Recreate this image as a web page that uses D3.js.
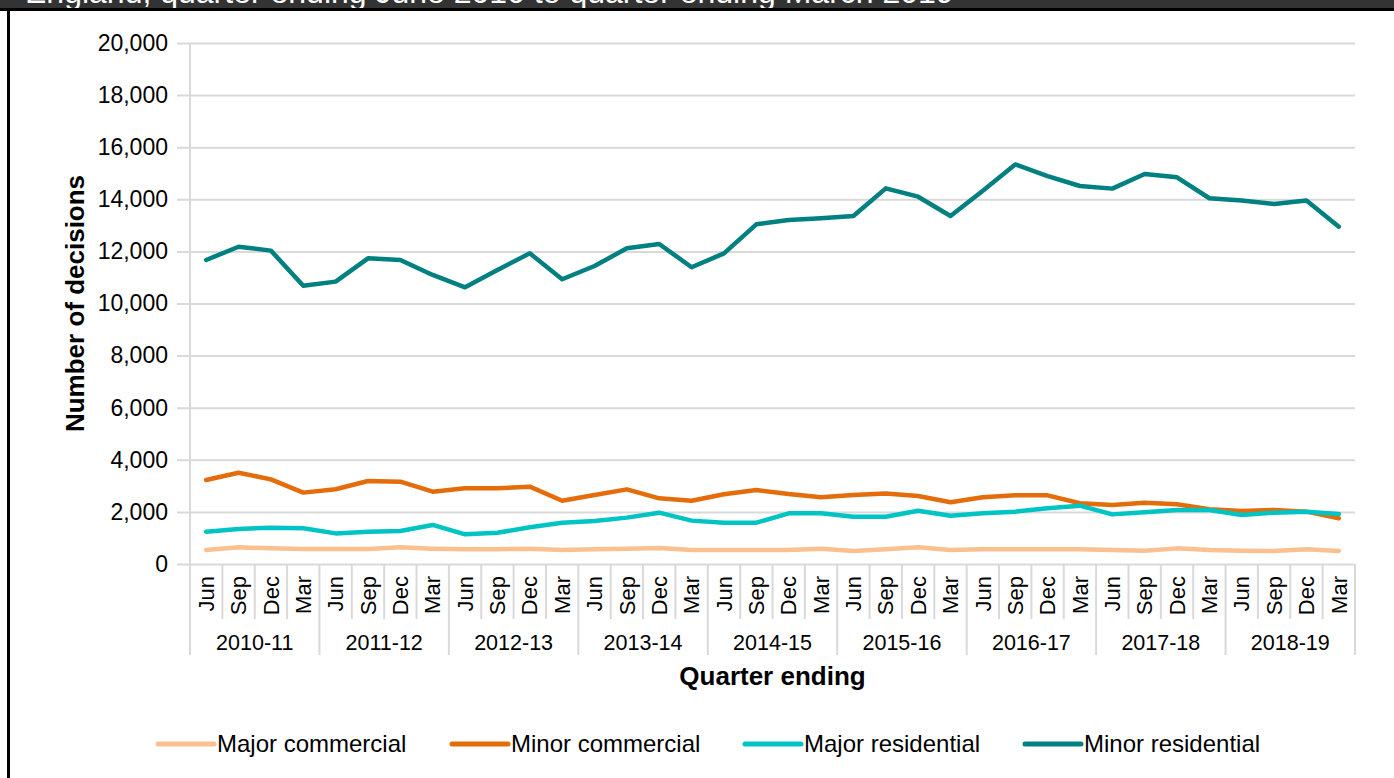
<!DOCTYPE html>
<html>
<head>
<meta charset="utf-8">
<script src="https://cdn.jsdelivr.net/npm/d3@7"></script>
<style>
  body { margin: 0; background: #fff; font-family: "Liberation Sans", Arial, sans-serif; }
  svg { display: block; }
</style>
</head>
<body>
<div id="chart"></div>
<script>
// quarters ending, grouped by financial year
const years = ['2010-11', '2011-12', '2012-13', '2013-14', '2014-15', '2015-16', '2016-17', '2017-18', '2018-19']
const months = ['Jun', 'Sep', 'Dec', 'Mar']
const yTicks = [0, 2000, 4000, 6000, 8000, 10000, 12000, 14000, 16000, 18000, 20000]

const majorCommercial = [535, 640, 600, 575, 575, 575, 640, 590, 565, 565, 590, 535,
    565, 590, 615, 535, 535, 535, 535, 590, 500, 565, 640, 535,
    565, 565, 565, 565, 535, 510, 600, 535, 510, 500, 565, 500]
const minorCommercial = [3225, 3505, 3250, 2740, 2870, 3185, 3160, 2775, 2905, 2905, 2970, 2430,
    2650, 2865, 2520, 2430, 2675, 2840, 2685, 2560, 2650, 2710, 2610, 2370,
    2560, 2635, 2635, 2330, 2265, 2355, 2290, 2100, 2035, 2075, 2010, 1755]
const majorResidential = [1240, 1345, 1395, 1370, 1175, 1240, 1265, 1500, 1140, 1200, 1410, 1585,
    1650, 1780, 1970, 1665, 1585, 1585, 1945, 1945, 1815, 1815, 2045, 1855,
    1945, 2010, 2140, 2240, 1905, 1985, 2075, 2075, 1880, 1970, 2010, 1920]
const minorResidential = [11670, 12180, 12030, 10685, 10840, 11735, 11670, 11095, 10620, 11285, 11925, 10930,
    11440, 12120, 12285, 11390, 11925, 13040, 13205, 13270, 13360, 14420, 14100, 13360,
    14330, 15340, 14890, 14510, 14410, 14970, 14845, 14040, 13950, 13820, 13950, 12950]

const seriesNames = ['Major commercial', 'Minor commercial', 'Major residential', 'Minor residential']
const seriesColors = ['#fac090', '#e46c0a', '#00c4c4', '#008080']

function drawChart(d3, id) {
    var width = 1394
    var height = 778
    var margin = {left: 190, right: 39, top: 43, bottom: 214}

    var svg = d3.select('#' + id)
        .append('svg')
        .attr('width', width)
        .attr('height', height)

    // title strip and frame (title is mostly cut off at the top in the original)
    svg.append('rect').attr('x', 0).attr('y', 0).attr('width', width).attr('height', 8).attr('fill', '#333333')
    svg.append('text')
        .attr('x', 25).attr('y', 3)
        .attr('fill', '#fff')
        .attr('font-size', 32)
        .text('England, quarter ending June 2010 to quarter ending March 2019')
    svg.append('rect').attr('x', 0).attr('y', 8).attr('width', width).attr('height', 3).attr('fill', '#000')
    svg.append('rect').attr('x', 7).attr('y', 8).attr('width', 3).attr('height', height - 8).attr('fill', '#000')

    var cats = []
    years.forEach(y => months.forEach(m => cats.push(y + ' ' + m)))

    var x = d3.scaleBand()
        .domain(cats)
        .range([margin.left, width - margin.right])
    var xc = d => x(d) + x.bandwidth() / 2

    var y = d3.scaleLinear()
        .domain([0, 20000])
        .range([height - margin.bottom, margin.top])

    // gridlines + y labels
    var yAxis = d3.axisLeft(y)
        .tickValues(yTicks)
        .tickFormat(d3.format(','))
        .tickSize(-(width - margin.right - margin.left + 13))

    var gy = svg.append('g')
        .attr('transform', `translate(${margin.left - 13},0)`)
        .call(yAxis)
    gy.select('.domain').remove()
    gy.selectAll('line').attr('stroke', '#d9d9d9').attr('stroke-width', 2)
    gy.selectAll('text')
        .attr('x', -9)
        .attr('font-size', 23)
        .attr('font-family', '"Liberation Sans", Arial, sans-serif')
        .attr('fill', '#000')

    svg.append('line')
        .attr('x1', margin.left).attr('x2', margin.left)
        .attr('y1', margin.top).attr('y2', height - margin.bottom)
        .attr('stroke', '#d9d9d9').attr('stroke-width', 2)

    // category axis, two levels
    var base = height - margin.bottom
    var xg = svg.append('g').attr('class', 'x-axis')
    xg.selectAll('line.sep')
        .data(cats.concat(['end']))
        .enter()
        .append('line')
        .attr('x1', (d, i) => i < cats.length ? x(d) : width - margin.right)
        .attr('x2', (d, i) => i < cats.length ? x(d) : width - margin.right)
        .attr('y1', base)
        .attr('y2', (d, i) => i % 4 === 0 ? base + 91 : base + 55)
        .attr('stroke', '#d9d9d9')
        .attr('stroke-width', 2)

    xg.selectAll('text.month')
        .data(cats)
        .enter()
        .append('text')
        .attr('transform', d => `translate(${xc(d)},${base + 12}) rotate(-90)`)
        .attr('text-anchor', 'end')
        .attr('dy', '0.35em')
        .attr('font-size', 22)
        .attr('fill', '#000')
        .text(d => d.split(' ')[1])

    xg.selectAll('text.year')
        .data(years)
        .enter()
        .append('text')
        .attr('x', (d, i) => (x(d + ' Jun') + x(d + ' Mar') + x.bandwidth()) / 2)
        .attr('y', base + 86)
        .attr('text-anchor', 'middle')
        .attr('font-size', 21.5)
        .attr('fill', '#000')
        .text(d => d)

    // axis titles
    svg.append('text')
        .attr('x', (margin.left + width - margin.right) / 2)
        .attr('y', 685)
        .attr('text-anchor', 'middle')
        .attr('font-size', 26)
        .attr('font-weight', 'bold')
        .text('Quarter ending')
    svg.append('text')
        .attr('transform', `translate(75,${(margin.top + base) / 2}) rotate(-90)`)
        .attr('text-anchor', 'middle')
        .attr('dy', '0.35em')
        .attr('font-size', 26)
        .attr('font-weight', 'bold')
        .text('Number of decisions')

    // lines
    var allSeries = [majorCommercial, minorCommercial, majorResidential, minorResidential]
    var line = d3.line()
        .x((d, i) => xc(cats[i]))
        .y(d => y(d))

    svg.append('g').selectAll('path')
        .data(allSeries)
        .enter()
        .append('path')
        .attr('d', line)
        .attr('fill', 'none')
        .attr('stroke', (d, i) => seriesColors[i])
        .attr('stroke-width', 4.5)
        .attr('stroke-linejoin', 'round')
        .attr('stroke-linecap', 'round')

    drawLegend(svg)
}

function drawLegend(svg) {
    var starts = [158, 452, 745, 1025]
    var legend = svg.append('g').attr('transform', 'translate(0,744)')

    seriesNames.forEach((name, i) => {
        legend.append('line')
            .attr('x1', starts[i]).attr('x2', starts[i] + 56)
            .attr('y1', 0).attr('y2', 0)
            .attr('stroke', seriesColors[i])
            .attr('stroke-width', 5)
            .attr('stroke-linecap', 'round')
        legend.append('text')
            .attr('x', starts[i] + 59)
            .attr('y', 0)
            .attr('dy', '0.35em')
            .attr('font-size', 24)
            .attr('fill', '#000')
            .text(name)
    })
}

drawChart(d3, 'chart')
</script>
</body>
</html>
